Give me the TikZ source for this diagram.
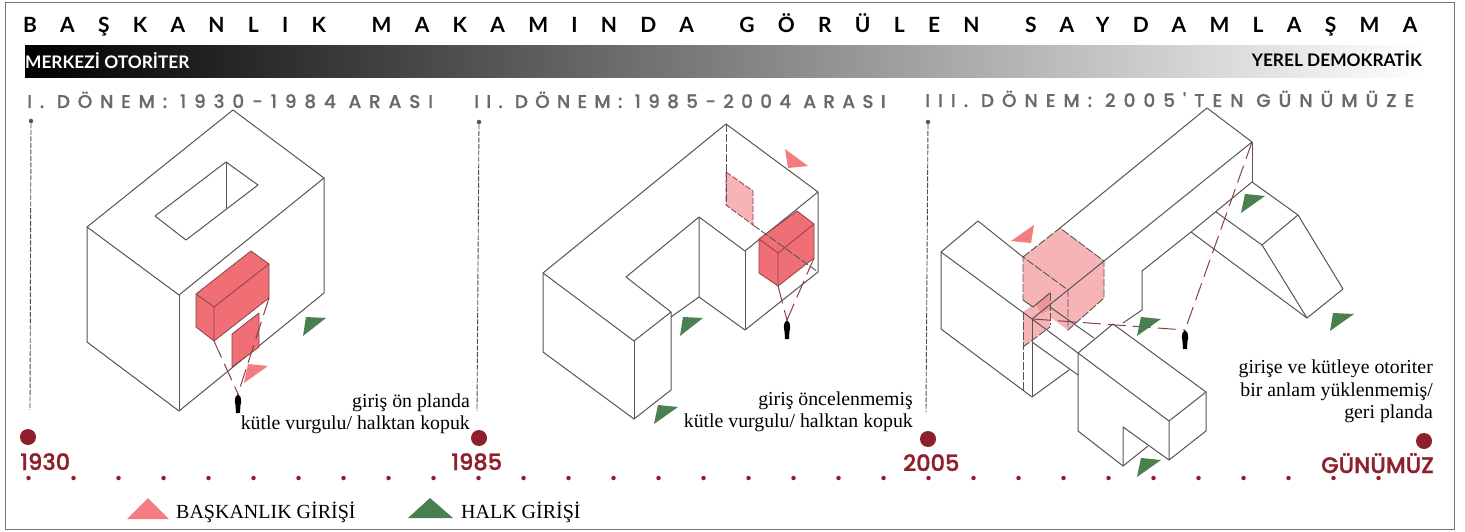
\documentclass[tikz,border=0pt]{standalone}
\usepackage{fontspec}
\setmainfont{Liberation Serif}
\newfontfamily\titlefont[LetterSpace=111,WordSpace=1.6]{Lato}
\newfontfamily\headfont[LetterSpace=42,FakeBold=0.5]{Poppins Medium}
\newfontfamily\headfontb[LetterSpace=39,FakeBold=0.5]{Poppins Medium}
\newfontfamily\headfontc[LetterSpace=43,FakeBold=0.5]{Poppins Medium}
\newfontfamily\yearfont[FakeBold=1.2]{Poppins Medium}
\newfontfamily\barfont{Lato}
\definecolor{wine}{HTML}{8E1F2D}
\definecolor{ln}{HTML}{555555}
\definecolor{hd}{HTML}{6A6A6A}
\definecolor{pk}{HTML}{F27C80}
\definecolor{red}{HTML}{EF6F75}
\definecolor{pale}{HTML}{F6B4B7}
\definecolor{mid}{HTML}{EE9498}
\definecolor{gr}{HTML}{4A7F50}
\definecolor{dl}{HTML}{8A4048}
\tikzset{
  x=1pt,y=-1pt,
  mass/.style={draw=ln,line width=1pt,line join=round},
  hidden/.style={draw=ln,line width=0.9pt,dash pattern=on 8pt off 2pt},
  pinkedge/.style={draw=dl,line width=0.8pt,dash pattern=on 6pt off 2pt},
  sight/.style={draw=dl,line width=1pt,dash pattern=on 18pt off 7pt},
  solidred/.style={fill=red,draw=dl,line width=0.8pt,line join=round},
  ptri/.style={fill=pk,draw=none},
  gtri/.style={fill=gr,draw=none},
  timeline/.style={draw=ln!90!black,line width=0.9pt,dash pattern=on 5pt off 1.5pt},
  topdot/.style={circle,fill=ln,inner sep=0pt,minimum size=4.5pt},
  era/.style={circle,fill=wine,inner sep=0pt,minimum size=16pt},
  tick/.style={circle,fill=wine,inner sep=0pt,minimum size=4.5pt},
  year/.style={text=wine,anchor=base west,inner sep=0pt,font=\yearfont\fontsize{22.5}{24}\selectfont},
  head/.style={text=hd,anchor=base west,inner sep=0pt},
  note/.style={align=right,inner sep=0pt,anchor=base east,font=\fontsize{19.8}{22.5}\selectfont},
  leg/.style={anchor=base west,inner sep=0pt,font=\fontsize{20}{22}\selectfont},
  barlab/.style={inner sep=0pt,font=\barfont\bfseries\fontsize{17.3}{20}\selectfont},
  pics/walker/.style={code={\fill[black] (0,0) -- (2.5,3) -- (3.2,7) -- (2.4,12) -- (2,19) -- (-2,19) -- (-2.4,12) -- (-3.2,7) -- (-2.5,3) -- cycle;}}
}
\begin{document}
\begin{tikzpicture}
\useasboundingbox (0,0) rectangle (1465,532);
\fill[white] (0,0) rectangle (1465,532);
\draw[draw=ln!80,line width=1pt] (5,3) rectangle (1454,529);

% title and gradient
\node[anchor=base west,inner sep=0pt,font=\titlefont\bfseries\fontsize{21}{24}\selectfont] (title) at (23,33) {BAŞKANLIK MAKAMINDA GÖRÜLEN SAYDAMLAŞMA};
\shade[left color=black,right color=white] (25,46) rectangle (1425,78);
\node[barlab,text=white,anchor=base west] (merkez) at (25,69) {MERKEZİ OTORİTER};
\node[barlab,text=black,anchor=base east] (yerel) at (1422,67) {YEREL DEMOKRATİK};

% period heads
\node[head,font=\headfont\fontsize{18.5}{22}\selectfont] (h1) at (27,108) {I. DÖNEM: 1930-1984 ARASI};
\node[head,font=\headfontb\fontsize{18.5}{22}\selectfont] (h2) at (474,108) {II. DÖNEM: 1985-2004 ARASI};
\node[head,font=\headfontc\fontsize{18.5}{22}\selectfont] (h3) at (925,107) {III. DÖNEM: 2005'TEN GÜNÜMÜZE};

% time line
\node[topdot] (d1) at (31,121) {};
\node[topdot] (d2) at (479,122) {};
\node[topdot] (d3) at (928,122) {};
\node[era] (e1) at (28,437) {};
\node[era] (e2) at (479,438) {};
\node[era] (e3) at (928,439) {};
\node[era] (e4) at (1424,441) {};
\coordinate (b1) at (30,410); \coordinate (b2) at (477,411); \coordinate (b3) at (926,412);
\draw[timeline] (d1) -- (b1);
\draw[timeline] (d2) -- (b2);
\draw[timeline] (d3) -- (b3);
\foreach \i in {0,...,30} \node[tick] (t\i) at ({28.5+45*\i},478) {};
\node[year] (y1) at (20,470) {1930};
\node[year] (y2) at (451,470) {1985};
\node[year] (y3) at (903,471) {2005};
\node[year] (y4) at (1321,473) {GÜNÜMÜZ};

% ---- panel 1
\draw[mass] (233,110) -- (324,178) -- (179,295) -- (87,227) -- cycle;
\draw[mass] (87,227) -- (87,342) -- (179,411) -- (324,293) -- (324,178);
\draw[mass] (179,295) -- (179,411);
\draw[mass] (226,162) -- (258,185) -- (186,240) -- (155,216) -- cycle;
\draw[mass] (226,162) -- (226,208);
\path[solidred] (251,251) -- (269,264) -- (269,298) -- (214,341) -- (196,327) -- (196,294) -- cycle;
\draw[draw=dl,line width=0.8pt] (196,294) -- (214,307) -- (269,264) (214,307) -- (214,341);
\path[solidred] (232,334) -- (259,313) -- (259,347) -- (232,367) -- cycle;
\coordinate (p1) at (238,394);
\draw[sight] (214,341) -- (p1);
\draw[sight] (269,298) -- (p1);
\pic at (p1) {walker};
\fill[ptri] (248,364) -- (268,366) -- (244,383) -- cycle;
\fill[gtri] (306,317) -- (326,318) -- (303,336) -- cycle;
\node[note] (n1) at (470,407) {giriş ön planda};
\node[note] (n1b) at (470,429) {kütle vurgulu/ halktan kopuk};

% ---- panel 2
\path[fill=pale,pinkedge] (726,172) -- (753,191) -- (753,225) -- (726,205) -- cycle;
\draw[mass] (726,124) -- (818,192) -- (745,251) -- (699,217) -- (626,277) -- (671,312) -- (634,341) -- (543,273) -- cycle;
\draw[mass] (543,273) -- (543,352) -- (634,419) -- (671,390) -- (671,312);
\draw[mass] (634,341) -- (634,419);
\draw[mass] (699,217) -- (699,297) -- (745,330) -- (818,272) -- (818,192);
\draw[mass] (745,251) -- (745,330);
\draw[mass] (671,317) -- (699,297);
\path[solidred] (797,211) -- (814,224) -- (814,258) -- (778,286) -- (759,273) -- (759,239) -- cycle;
\draw[draw=dl,line width=0.8pt] (759,239) -- (778,253) -- (814,224) (778,253) -- (778,286);
\draw[hidden] (726,124) -- (726,205);
\draw[hidden] (753,225) -- (818,272);
\coordinate (p2) at (787,320);
\draw[sight] (778,286) -- (p2);
\draw[sight] (814,258) -- (p2);
\pic at (p2) {walker};
\fill[ptri] (785,149) -- (808,166) -- (788,168) -- cycle;
\fill[gtri] (683,317) -- (703,318) -- (680,336) -- cycle;
\fill[gtri] (658,405) -- (678,407) -- (654,424) -- cycle;
\node[note] (n2) at (913,405) {giriş öncelenmemiş};
\node[note] (n2b) at (913,427) {kütle vurgulu/ halktan kopuk};

% ---- panel 3
\fill[pale] (1023,257) -- (1060,228) -- (1104,261) -- (1104,298) -- (1068,330) -- (1050,317) -- (1050,293) -- (1033,307) -- (1023,300) -- cycle;
\fill[pale] (1050,293) -- (1050,327) -- (1023,347) -- (1023,312) -- cycle;
\fill[mid] (1036,304) -- (1050,293) -- (1050,310) -- (1041,314) -- cycle;
\draw[mass] (1060,228) -- (1207,108) -- (1252,142) -- (1068,290) -- (1032,319);
\draw[mass] (1252,142) -- (1252,182);
\draw[mass] (1023,257) -- (978,221) -- (941,252) -- (941,329) -- (1032,397) -- (1069,370);
\draw[mass] (941,252) -- (1032,319) -- (1078,353);
\draw[mass] (1032,319) -- (1032,397);
\draw[mass] (1032,342) -- (1078,375);
\draw[mass] (1050,307) -- (1094,338);
\draw[mass] (1078,353) -- (1113,324) -- (1206,392) -- (1169,421) -- (1078,353) -- (1078,431) -- (1123,466) -- (1123,427) -- (1169,460) -- (1169,421);
\draw[mass] (1206,392) -- (1206,431) -- (1169,460);
\draw[mass] (1123,466) -- (1148,446);
\draw[mass] (1123,323) -- (1142,310) -- (1142,271) -- (1191,232) -- (1252,182) -- (1298,215) -- (1343,289) -- (1307,318) -- (1191,232);
\draw[mass] (1307,318) -- (1262,245) -- (1298,215);
\draw[mass] (1216,212) -- (1262,245);
\draw[hidden] (1023,257) -- (1060,228) -- (1104,261) -- (1104,298) -- (1068,330) -- (1068,290) -- (1023,257) -- (1023,300);
\draw[hidden] (1023,312) -- (1023,390);
\draw[hidden] (1050,293) -- (1050,325);
\draw[hidden] (1023,347) -- (1050,327);
\draw[mass] (1023,300) -- (1033,307) -- (1050,293);
\coordinate (p3) at (1185,330);
\coordinate (c3a) at (1252,142);
\coordinate (c3b) at (1033,319);
\draw[sight] (c3a) -- (p3);
\draw[sight] (c3b) -- (p3);
\pic at (p3) {walker};
\fill[ptri] (1034,225) -- (1031,243) -- (1011,241) -- cycle;
\fill[gtri] (1141,317) -- (1161,319) -- (1137,336) -- cycle;
\fill[gtri] (1245,194) -- (1265,196) -- (1241,213) -- cycle;
\fill[gtri] (1333,313) -- (1354,314) -- (1330,331) -- cycle;
\fill[gtri] (1141,458) -- (1161,460) -- (1137,477) -- cycle;
\node[note] (n3a) at (1433,373) {girişe ve kütleye otoriter};
\node[note] (n3b) at (1433,396) {bir anlam yüklenmemiş/};
\node[note] (n3c) at (1433,418) {geri planda};

% ---- legend
\fill[ptri] (127,519) -- (169,519) -- (148,498) -- cycle;
\fill[gtri] (408,518) -- (453,518) -- (430,498) -- cycle;
\node[leg] (l1) at (176,518) {BAŞKANLIK GİRİŞİ};
\node[leg] (l2) at (461,518) {HALK GİRİŞİ};
\end{tikzpicture}
\end{document}
